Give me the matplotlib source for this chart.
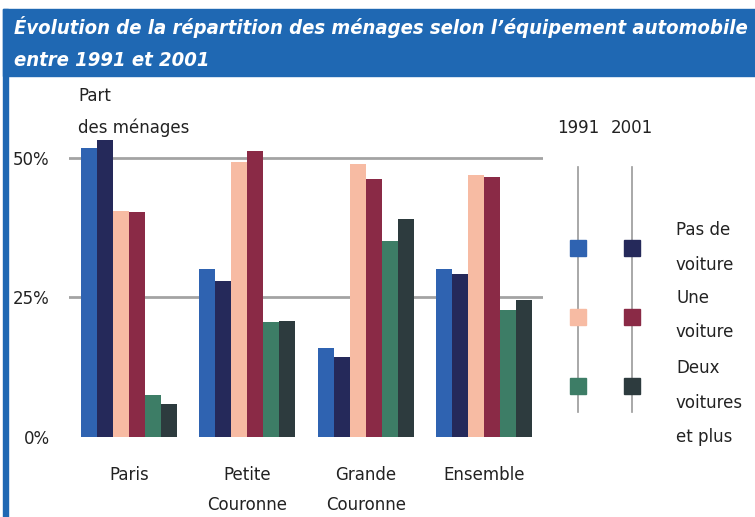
import matplotlib
matplotlib.use("Agg")
import numpy as np
from matplotlib import pyplot as plt
from matplotlib.patches import Rectangle

# data (% of households)
regions = ["Paris", "Petite\nCouronne", "Grande\nCouronne", "Ensemble"]
no_car_1991 = [51.7, 30.1, 15.9, 30.1]
no_car_2001 = [53.2, 27.9, 14.3, 29.2]
one_car_1991 = [40.4, 49.2, 48.9, 46.8]
one_car_2001 = [40.2, 51.1, 46.1, 46.5]
two_cars_1991 = [7.5, 20.5, 35.1, 22.7]
two_cars_2001 = [5.9, 20.8, 39.1, 24.5]

series = [no_car_1991, no_car_2001, one_car_1991, one_car_2001, two_cars_1991, two_cars_2001]
colors = ["#2f63b1", "#25295a", "#f7bba3", "#8a2a46", "#3d7d66", "#2d3b3e"]

W, H = 755, 517
fig = plt.figure(figsize=(W / 100, H / 100), dpi=100)

# overlay in pixel coordinates for the frame, title and legend
over = fig.add_axes([0, 0, 1, 1])
over.set_xlim(0, W)
over.set_ylim(H, 0)
over.axis("off")
blue = "#1f68b3"
over.add_patch(Rectangle((3, 9), W - 3, 67, color=blue, zorder=0))
over.add_patch(Rectangle((3, 9), 5, H - 9, color=blue, zorder=0))
t1 = over.text(14, 27, "Évolution de la répartition des ménages selon l’équipement automobile",
               color="white", fontsize=17, fontweight="bold", fontstyle="italic",
               fontstretch="condensed", va="center", ha="left")
t2 = over.text(14, 60, "entre 1991 et 2001", color="white", fontsize=17, fontweight="bold",
               fontstyle="italic", fontstretch="condensed", va="center", ha="left")
# shrink the title so that the first line fits inside the banner
fig.canvas.draw()
wpx = t1.get_window_extent().width
if wpx > 733:
    fs = 17 * 733 / wpx
    t1.set_fontsize(fs)
    t2.set_fontsize(fs)

txt = dict(fontsize=12, color="#222222", va="center")
over.text(78, 96, "Part", ha="left", **txt)
over.text(78, 128, "des ménages", ha="left", **txt)

# legend: two columns (1991, 2001) with vertical guide lines
col_x = [578, 632]
row_y = [248, 317, 386]
over.text(col_x[0], 128, "1991", ha="center", **txt)
over.text(col_x[1], 128, "2001", ha="center", **txt)
for x in col_x:
    over.plot([x, x], [167, 412], color="#999999", lw=1.2, zorder=1)
for i, y in enumerate(row_y):
    over.plot(col_x[0], y, marker="s", ms=12, color=colors[2 * i], zorder=2)
    over.plot(col_x[1], y, marker="s", ms=12, color=colors[2 * i + 1], zorder=2)
label_lines = [(230, "Pas de"), (265, "voiture"), (298, "Une"), (332, "voiture"),
               (368, "Deux"), (403, "voitures"), (437, "et plus")]
for y, s in label_lines:
    over.text(676, y, s, ha="left", **txt)

# bar chart axes
ymax = 55
x0, x1 = 69, 543
y0 = H - 437
ytop = H - (437 - ymax * 5.588)
ax = fig.add_axes([x0 / W, y0 / H, (x1 - x0) / W, (ytop - y0) / H])
ax.patch.set_alpha(0)
idx = np.arange(len(regions))
width = 0.135
for k, (vals, c) in enumerate(zip(series, colors)):
    ax.bar(idx + (k - 2.5) * width, vals, width, color=c, zorder=3)
for g in [25, 50]:
    ax.axhline(g, color="#a3a3a3", lw=2, zorder=1)
ax.set_xlim(-0.507, 3.497)
ax.set_ylim(0, ymax)
ax.set_yticks([0, 25, 50])
ax.set_yticklabels(["0%", "25%", "50%"], fontsize=12, color="#222222")
ax.set_xticks(idx)
ax.set_xticklabels(regions, fontsize=12, color="#222222", linespacing=1.85, va="top")
ax.tick_params(axis="y", length=0, pad=14)
ax.tick_params(axis="x", length=0, pad=21)
for s in ax.spines.values():
    s.set_visible(False)

plt.savefig("out.png", dpi=100)
